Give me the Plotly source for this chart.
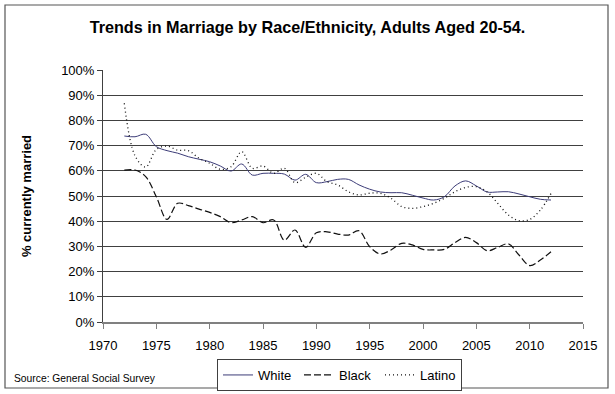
import plotly.graph_objects as go

years = list(range(1972, 2013))
white = [73.8, 73.5, 74.5, 69.6, 68.0, 67.0, 65.6, 64.6, 63.6, 61.9, 59.9, 62.7, 58.3,
         59.0, 59.0, 58.7, 56.3, 58.6, 55.3, 55.7, 56.6, 56.6, 54.4, 52.7, 51.6, 51.3,
         51.3, 50.3, 49.2, 48.4, 49.7, 54.0, 56.0, 54.0, 51.6, 51.6, 51.7, 50.8, 49.7,
         48.7, 48.4]
black = [60.3, 60.3, 57.7, 49.7, 40.7, 47.1, 46.2, 44.8, 43.5, 41.8, 39.4, 40.5, 41.8,
         39.4, 40.5, 32.5, 36.5, 29.6, 35.4, 35.8, 34.9, 34.5, 36.2, 29.9, 27.0, 28.6,
         31.2, 30.6, 28.8, 28.6, 28.8, 31.5, 33.6, 31.5, 28.3, 29.6, 31.0, 26.6, 22.4,
         24.6, 27.9]
latino = [86.8, 66.0, 61.5, 68.5, 69.8, 68.2, 68.0, 65.0, 63.0, 60.6, 61.6, 67.6, 61.0,
          61.9, 59.0, 61.0, 55.3, 57.4, 59.0, 55.7, 54.4, 51.7, 50.4, 51.1, 51.1, 49.1,
          45.8, 45.1, 45.8, 47.1, 49.1, 51.7, 53.4, 53.7, 51.7, 47.1, 42.5, 40.2, 40.7,
          44.4, 51.0]

series_names = ["White", "Black", "Latino"]
y_ticks = [i / 10 for i in range(11)]
x_ticks = list(range(1970, 2016, 5))

W, H = 615, 394
L, R, T, B = 103, 583, 70, 322

def px(xp):
    return (xp - L) / (R - L)

def py(yp):
    return (B - yp) / (B - T)

fig = go.Figure()
styles = [
    dict(color="#3c3c78", width=1, dash="solid"),
    dict(color="#111111", width=1.2, dash="7px,3px"),
    dict(color="#111111", width=1.3, dash="1px,3px"),
]
for name, vals, st in zip(series_names, [white, black, latino], styles):
    fig.add_trace(go.Scatter(
        x=years, y=[v / 100 for v in vals], name=name, mode="lines",
        line=dict(shape="spline", smoothing=1.0, **st),
    ))

font_family = "Liberation Sans, Arial, sans-serif"

fig.update_layout(
    width=W, height=H,
    margin=dict(l=L, r=W - R, t=T, b=H - B, autoexpand=False),
    paper_bgcolor="white", plot_bgcolor="white",
    font=dict(family=font_family, size=13, color="#000000"),
    title=dict(text="<b>Trends in Marriage by Race/Ethnicity, Adults Aged 20-54.</b>",
               x=0.5, xref="container", xanchor="center", y=1 - 27 / H, yanchor="middle",
               font=dict(size=16.2, family=font_family, color="#000000")),
    xaxis=dict(range=[1970, 2015], tickvals=x_ticks, ticks="outside", ticklen=5,
               tickcolor="#808080", showline=True, linecolor="#808080", linewidth=1.5,
               showgrid=False, zeroline=False, ticklabelstandoff=6, automargin=False,
               tickfont=dict(size=13, family=font_family)),
    yaxis=dict(range=[0, 1], tickvals=y_ticks, tickformat=".0%", ticks="outside",
               ticklen=5, tickcolor="#404040", showline=True, linecolor="#404040",
               linewidth=1, showgrid=True, gridcolor="#404040", gridwidth=1,
               zeroline=False, tickfont=dict(size=13, family=font_family),
               automargin=False,
               title=dict(text="<b>% currently married</b>", standoff=26,
                          font=dict(size=13, family=font_family))),
    legend=dict(orientation="h", x=px(217), xanchor="left", y=py(359), yanchor="top",
                bordercolor="#404040", borderwidth=1, bgcolor="white",
                font=dict(size=13, family=font_family),
                entrywidth=36, entrywidthmode="pixels",
                tracegroupgap=0),
    showlegend=True,
)

fig.add_shape(type="rect", xref="paper", yref="paper",
              x0=px(5), x1=px(608), y0=py(388), y1=py(5),
              line=dict(color="#555555", width=1.2), layer="below")

fig.add_annotation(text="Source: General Social Survey", xref="paper", yref="paper",
                   x=px(12), y=py(378), xanchor="left", yanchor="middle",
                   showarrow=False, font=dict(size=10.3, family=font_family))

fig.write_html("out.html", config={"displayModeBar": False},
               post_script="document.body.style.margin='0';document.body.style.overflow='hidden';")
